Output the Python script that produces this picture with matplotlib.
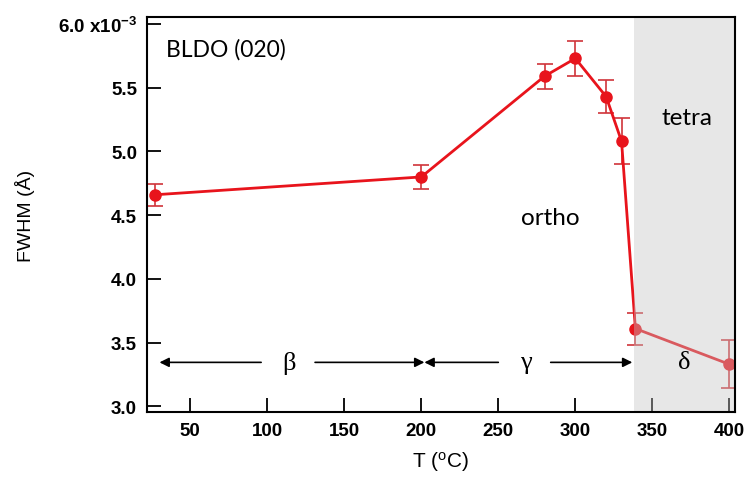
import matplotlib
matplotlib.use("Agg")
import matplotlib.pyplot as plt
import numpy as np

# FWHM of the (020) reflection vs temperature
temperature = [27, 200, 280, 300, 320, 330, 339, 400]
fwhm = [4.66, 4.80, 5.59, 5.73, 5.43, 5.08, 3.61, 3.33]
fwhm_err = [0.086, 0.097, 0.098, 0.137, 0.13, 0.18, 0.125, 0.19]

x_ticks = [50, 100, 150, 200, 250, 300, 350, 400]
y_ticks = [3.0, 3.5, 4.0, 4.5, 5.0, 5.5, 6.0]
y_tick_labels = ["3.0", "3.5", "4.0", "4.5", "5.0", "5.5", "6.0 x10$^{-3}$"]

tetra_start = 338
phase_bounds = [30, 202, 337]
arrow_level = 3.345

plt.rcParams["font.family"] = "sans-serif"
plt.rcParams["font.sans-serif"] = ["Liberation Sans"]
plt.rcParams["mathtext.fontset"] = "custom"
plt.rcParams["mathtext.rm"] = "Liberation Sans"
plt.rcParams["mathtext.it"] = "Liberation Sans:italic"
plt.rcParams["mathtext.bf"] = "Liberation Sans:bold"
plt.rcParams["mathtext.default"] = "regular"

fig = plt.figure(figsize=(7.47, 4.81), dpi=100)
ax = fig.add_axes([0.1964, 0.1407, 0.984 - 0.1964, 0.9626 - 0.1407])

red = "#e8141c"
ax.errorbar(temperature, fwhm, yerr=fwhm_err, color=red, lw=2.0,
            marker="o", ms=8, mec=red, mfc=red, ecolor="#d0343a",
            elinewidth=1.2, capsize=6, capthick=1.2, zorder=3)

# tetragonal region, laid over the data as a translucent grey
ax.axvspan(tetra_start, 410, facecolor="#c4c4c4", alpha=0.4, lw=0, zorder=4)

ax.set_xlim(21.7, 403.7)
ax.set_ylim(2.953, 6.055)

ax.set_xticks(x_ticks)
ax.set_yticks(y_ticks)
ax.set_yticklabels(y_tick_labels)
ax.tick_params(direction="in", length=10, width=1.3, labelsize=13.5, pad=7)
for lab in ax.get_xticklabels() + ax.get_yticklabels():
    lab.set_fontweight("bold")
for sp in ax.spines.values():
    sp.set_linewidth(1.5)
    sp.set_zorder(6)

ax.set_xlabel("T ($^{o}$C)", fontsize=15, labelpad=7)
ax.set_ylabel("FWHM (Å)", fontsize=14, labelpad=16)

label_font = ["Lato", "DejaVu Sans"]
ax.text(34, 5.805, "BLDO (020)", fontsize=16.5, family=label_font, va="center", zorder=7)
ax.text(283.6, 4.478, "ortho", fontsize=17.5, family=label_font, va="center", ha="center", zorder=7)
ax.text(372.5, 5.263, "tetra", fontsize=17.5, family=label_font, va="center", ha="center", zorder=7)

serif = ["Liberation Serif", "DejaVu Serif"]
ax.text(114, arrow_level, "β", fontsize=19, family=serif, ha="center", va="center", zorder=7)
ax.text(268, arrow_level, "γ", fontsize=19, family=serif, ha="center", va="center", zorder=7)
ax.text(371, arrow_level, "δ", fontsize=19, family=serif, ha="center", va="center", zorder=7)

arrow_kw = dict(arrowstyle="-|>", color="black", lw=1.2, mutation_scale=14,
                shrinkA=0, shrinkB=0)
segments = [(96, phase_bounds[0]), (131, phase_bounds[1]),
            (250, phase_bounds[1]), (284, phase_bounds[2])]
for start, end in segments:
    ax.annotate("", xy=(end, arrow_level), xytext=(start, arrow_level),
                arrowprops=arrow_kw, zorder=7)

fig.savefig("out.png", dpi=100)
